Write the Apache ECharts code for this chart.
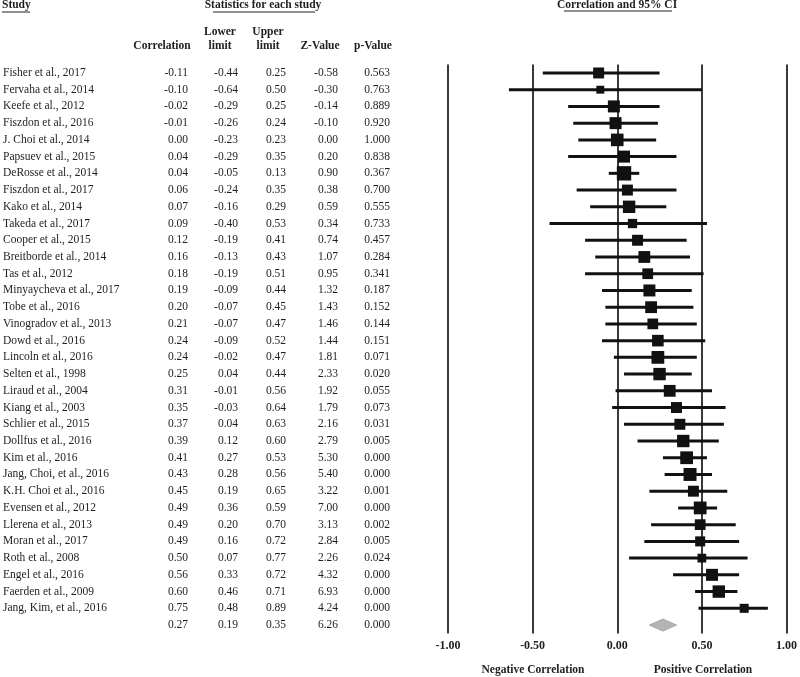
<!DOCTYPE html>
<html>
<head>
<meta charset="utf-8">
<script src="https://cdn.jsdelivr.net/npm/echarts@6/dist/echarts.min.js"></script>
<style>
  html, body { margin: 0; background: #fff; }
  #chart { width: 800px; height: 677px; }
</style>
</head>
<body>
<div id="chart"></div>
<script>
const studies = [
  'Fisher et al., 2017', 'Fervaha et al., 2014', 'Keefe et al., 2012', 'Fiszdon et al., 2016',
  'J. Choi et al., 2014', 'Papsuev et al., 2015', 'DeRosse et al., 2014', 'Fiszdon et al., 2017',
  'Kako et al., 2014', 'Takeda et al., 2017', 'Cooper et al., 2015', 'Breitborde et al., 2014',
  'Tas et al., 2012', 'Minyaycheva et al., 2017', 'Tobe et al., 2016', 'Vinogradov et al., 2013',
  'Dowd et al., 2016', 'Lincoln et al., 2016', 'Selten et al., 1998', 'Liraud et al., 2004',
  'Kiang et al., 2003', 'Schlier et al., 2015', 'Dollfus et al., 2016', 'Kim et al., 2016',
  'Jang, Choi, et al., 2016', 'K.H. Choi et al., 2016', 'Evensen et al., 2012', 'Llerena et al., 2013',
  'Moran et al., 2017', 'Roth et al., 2008', 'Engel et al., 2016', 'Faerden et al., 2009',
  'Jang, Kim, et al., 2016'
];
const correlation = [-0.11, -0.10, -0.02, -0.01, 0.00, 0.04, 0.04, 0.06, 0.07, 0.09, 0.12, 0.16,
  0.18, 0.19, 0.20, 0.21, 0.24, 0.24, 0.25, 0.31, 0.35, 0.37, 0.39, 0.41, 0.43, 0.45, 0.49, 0.49,
  0.49, 0.50, 0.56, 0.60, 0.75];
const lowerLimit = [-0.44, -0.64, -0.29, -0.26, -0.23, -0.29, -0.05, -0.24, -0.16, -0.40, -0.19, -0.13,
  -0.19, -0.09, -0.07, -0.07, -0.09, -0.02, 0.04, -0.01, -0.03, 0.04, 0.12, 0.27, 0.28, 0.19, 0.36, 0.20,
  0.16, 0.07, 0.33, 0.46, 0.48];
const upperLimit = [0.25, 0.50, 0.25, 0.24, 0.23, 0.35, 0.13, 0.35, 0.29, 0.53, 0.41, 0.43,
  0.51, 0.44, 0.45, 0.47, 0.52, 0.47, 0.44, 0.56, 0.64, 0.63, 0.60, 0.53, 0.56, 0.65, 0.59, 0.70,
  0.72, 0.77, 0.72, 0.71, 0.89];
const zValue = [-0.58, -0.30, -0.14, -0.10, 0.00, 0.20, 0.90, 0.38, 0.59, 0.34, 0.74, 1.07,
  0.95, 1.32, 1.43, 1.46, 1.44, 1.81, 2.33, 1.92, 1.79, 2.16, 2.79, 5.30, 5.40, 3.22, 7.00, 3.13,
  2.84, 2.26, 4.32, 6.93, 4.24];
const pValue = [0.563, 0.763, 0.889, 0.920, 1.000, 0.838, 0.367, 0.700, 0.555, 0.733, 0.457, 0.284,
  0.341, 0.187, 0.152, 0.144, 0.151, 0.071, 0.020, 0.055, 0.073, 0.031, 0.005, 0.000, 0.000, 0.001,
  0.000, 0.002, 0.005, 0.024, 0.000, 0.000, 0.000];
// relative study weights (box area)
const relWeight = [2.5, 1.3, 3.0, 3.0, 3.3, 3.0, 4.3, 2.5, 3.2, 1.8, 2.5, 2.9,
  2.4, 3.0, 2.9, 2.4, 2.8, 3.4, 3.2, 2.9, 2.5, 2.5, 3.2, 3.4, 3.5, 2.5, 3.4, 2.4,
  2.1, 1.6, 3.0, 3.2, 1.7];
// pooled: correlation, lower, upper, z, p
const summaryStats = [0.27, 0.19, 0.35, 6.26, 0.000];
const xTicks = [-1, -0.5, 0, 0.5, 1];

const serif = 'Liberation Serif';
const ink = '#1e1e1e';
const nRows = studies.length + 1;
const rowIds = Array.from({ length: nRows }, (_, i) => 'r' + i);

const chart = echarts.init(document.getElementById('chart'));

const gridLeft = 447;

function tableColumn(texts, anchorX, align) {
  return {
    type: 'category',
    gridIndex: 0,
    position: 'left',
    offset: gridLeft - anchorX,
    inverse: true,
    data: rowIds,
    axisLine: { show: false },
    axisTick: { show: false },
    splitLine: { show: false },
    axisLabel: {
      interval: 0,
      margin: 0,
      align: align,
      fontFamily: serif,
      fontSize: 11.5,
      color: ink,
      formatter: (v, i) => texts[i]
    }
  };
}

const fmt2 = v => v.toFixed(2);
const fmt3 = v => v.toFixed(3);

const nameCol = studies.concat(['']);
const corrCol = correlation.concat([summaryStats[0]]).map(fmt2);
const lowCol = lowerLimit.concat([summaryStats[1]]).map(fmt2);
const upCol = upperLimit.concat([summaryStats[2]]).map(fmt2);
const zCol = zValue.concat([summaryStats[3]]).map(fmt2);
const pCol = pValue.concat([summaryStats[4]]).map(fmt3);

const headStyle = { fontFamily: serif, fontSize: 11.5, fontWeight: 'bold', fill: ink };
function headText(x, y, text, align) {
  return { type: 'text', x: x, y: y, style: Object.assign({ text: text, align: align || 'center', verticalAlign: 'middle' }, headStyle) };
}
function underline(x1, x2, y) {
  return { type: 'line', shape: { x1: x1, y1: y, x2: x2, y2: y }, style: { stroke: ink, lineWidth: 1 } };
}

const option = {
  backgroundColor: '#fff',
  animation: false,
  grid: { left: gridLeft, right: 11, top: 64.6, bottom: 43.6, containLabel: false },
  xAxis: {
    type: 'value',
    min: -1,
    max: 1,
    interval: 0.5,
    axisLine: { show: false },
    axisTick: { show: false },
    splitLine: { show: true, lineStyle: { color: '#3a3a3a', width: 2 } },
    axisLabel: {
      margin: 7,
      fontFamily: serif,
      fontSize: 12,
      fontWeight: 'bold',
      color: ink,
      formatter: v => xTicks.indexOf(v) >= 0 ? v.toFixed(2) : ''
    }
  },
  yAxis: [
    Object.assign(tableColumn(nameCol, 2, 'left')),
    tableColumn(corrCol, 187, 'right'),
    tableColumn(lowCol, 237, 'right'),
    tableColumn(upCol, 285, 'right'),
    tableColumn(zCol, 337, 'right'),
    tableColumn(pCol, 389, 'right')
  ],
  graphic: [
    headText(2, 5, 'Study', 'left'),
    underline(2, 30, 12),
    headText(263, 5, 'Statistics for each study'),
    underline(213, 315, 12),
    headText(617, 5, 'Correlation and 95% CI'),
    underline(564, 672, 11),
    headText(162, 46, 'Correlation'),
    headText(220, 32, 'Lower'),
    headText(220, 46, 'limit'),
    headText(268, 32, 'Upper'),
    headText(268, 46, 'limit'),
    headText(320, 46, 'Z-Value'),
    headText(373, 46, 'p-Value'),
    headText(533, 670, 'Negative Correlation'),
    headText(703, 670, 'Positive Correlation')
  ],
  series: [
    {
      type: 'custom',
      name: 'CI',
      xAxisIndex: 0,
      yAxisIndex: 0,
      data: studies.map((s, i) => [i, lowerLimit[i], upperLimit[i]]),
      encode: { x: [1, 2], y: 0 },
      renderItem: (params, api) => {
        const a = api.coord([api.value(1), api.value(0)]);
        const b = api.coord([api.value(2), api.value(0)]);
        return {
          type: 'line',
          shape: { x1: a[0], y1: a[1], x2: b[0], y2: b[1] },
          style: { stroke: '#111', lineWidth: 3 }
        };
      },
      z: 3
    },
    {
      type: 'scatter',
      name: 'Correlation',
      xAxisIndex: 0,
      yAxisIndex: 0,
      symbol: 'rect',
      itemStyle: { color: '#111', opacity: 1 },
      data: studies.map((s, i) => ({
        value: [correlation[i], i],
        symbolSize: Math.sqrt(relWeight[i] * 48)
      })),
      z: 4
    },
    {
      type: 'custom',
      name: 'Pooled',
      xAxisIndex: 0,
      yAxisIndex: 0,
      data: [[studies.length, summaryStats[1], summaryStats[2], summaryStats[0]]],
      encode: { x: [1, 2, 3], y: 0 },
      renderItem: (params, api) => {
        const row = api.value(0);
        const l = api.coord([api.value(1), row]);
        const u = api.coord([api.value(2), row]);
        const m = api.coord([api.value(3), row]);
        const h = 6;
        return {
          type: 'polygon',
          shape: { points: [[l[0], l[1]], [m[0], m[1] - h], [u[0], u[1]], [m[0], m[1] + h]] },
          style: { fill: '#b4b4b4', stroke: '#a8a8a8', lineWidth: 1 }
        };
      },
      z: 4
    }
  ]
};

chart.setOption(option);
</script>
</body>
</html>
